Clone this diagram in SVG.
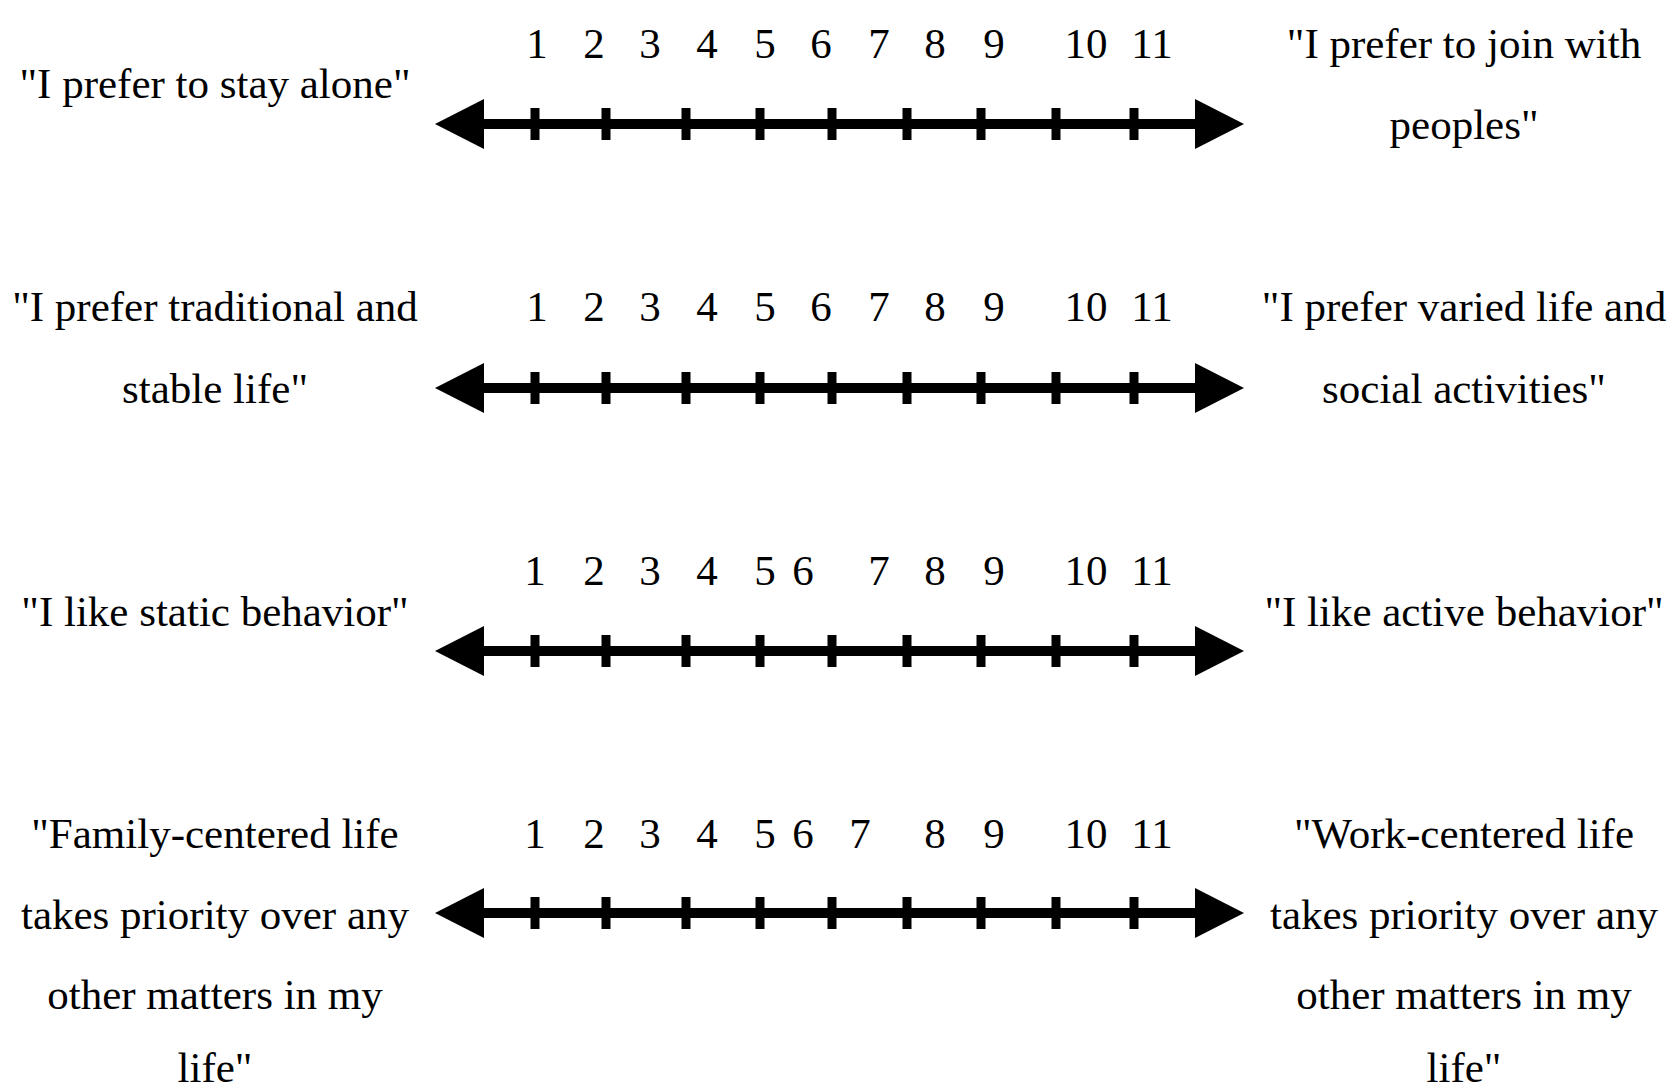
<svg xmlns="http://www.w3.org/2000/svg" xmlns:xlink="http://www.w3.org/1999/xlink" width="1668" height="1092" viewBox="0 0 1668 1092">
<style>
  text { font-family: "Liberation Serif", "Times New Roman", serif; font-size: 43px; fill: #000; }
  .lbl { text-anchor: middle; }
  .num { text-anchor: middle; }
  .axis { stroke: #000; stroke-width: 10; fill: none; }
  .tick { fill: #000; }
</style>
<defs>
  <marker id="arrow" markerUnits="userSpaceOnUse" markerWidth="50" markerHeight="52" viewBox="0 0 50 52" refX="1" refY="26" orient="auto-start-reverse">
    <path d="M0,1 L49,26 L0,51 z" fill="#000"/>
  </marker>
  <g id="ticks">
    <rect class="tick" x="530.5" y="-16" width="9" height="32"/>
    <rect class="tick" x="601.5" y="-16" width="9" height="32"/>
    <rect class="tick" x="681.5" y="-16" width="9" height="32"/>
    <rect class="tick" x="755.5" y="-16" width="9" height="32"/>
    <rect class="tick" x="827.5" y="-16" width="9" height="32"/>
    <rect class="tick" x="902.5" y="-16" width="9" height="32"/>
    <rect class="tick" x="976.5" y="-16" width="9" height="32"/>
    <rect class="tick" x="1051.5" y="-16" width="9" height="32"/>
    <rect class="tick" x="1129.5" y="-16" width="9" height="32"/>
  </g>
</defs>
<rect width="1668" height="1092" fill="#fff"/>

<g id="connectors">
  <g id="axis1" transform="translate(0,124)">
    <line class="axis" x1="483" y1="0" x2="1196" y2="0" marker-start="url(#arrow)" marker-end="url(#arrow)"/>
    <use xlink:href="#ticks"/>
  </g>
  <g id="axis2" transform="translate(0,388)">
    <line class="axis" x1="483" y1="0" x2="1196" y2="0" marker-start="url(#arrow)" marker-end="url(#arrow)"/>
    <use xlink:href="#ticks"/>
  </g>
  <g id="axis3" transform="translate(0,651)">
    <line class="axis" x1="483" y1="0" x2="1196" y2="0" marker-start="url(#arrow)" marker-end="url(#arrow)"/>
    <use xlink:href="#ticks"/>
  </g>
  <g id="axis4" transform="translate(0,913)">
    <line class="axis" x1="483" y1="0" x2="1196" y2="0" marker-start="url(#arrow)" marker-end="url(#arrow)"/>
    <use xlink:href="#ticks"/>
  </g>
</g>

<g id="scale1-numbers">
  <text class="num" x="537" y="58">1</text>
  <text class="num" x="594" y="58">2</text>
  <text class="num" x="650" y="58">3</text>
  <text class="num" x="707" y="58">4</text>
  <text class="num" x="765" y="58">5</text>
  <text class="num" x="821" y="58">6</text>
  <text class="num" x="879" y="58">7</text>
  <text class="num" x="935" y="58">8</text>
  <text class="num" x="994" y="58">9</text>
  <text class="num" x="1086" y="58">10</text>
  <text class="num" x="1152" y="58">11</text>
</g>
<g id="scale1-left"><text class="lbl" x="215" y="98">"I prefer to stay alone"</text></g>
<g id="scale1-right">
  <text class="lbl" x="1464" y="58">"I prefer to join with</text>
  <text class="lbl" x="1464" y="139">peoples"</text>
</g>

<g id="scale2-numbers">
  <text class="num" x="537" y="321">1</text>
  <text class="num" x="594" y="321">2</text>
  <text class="num" x="650" y="321">3</text>
  <text class="num" x="707" y="321">4</text>
  <text class="num" x="765" y="321">5</text>
  <text class="num" x="821" y="321">6</text>
  <text class="num" x="879" y="321">7</text>
  <text class="num" x="935" y="321">8</text>
  <text class="num" x="994" y="321">9</text>
  <text class="num" x="1086" y="321">10</text>
  <text class="num" x="1152" y="321">11</text>
</g>
<g id="scale2-left">
  <text class="lbl" x="215" y="321">"I prefer traditional and</text>
  <text class="lbl" x="215" y="403">stable life"</text>
</g>
<g id="scale2-right">
  <text class="lbl" x="1464" y="321">"I prefer varied life and</text>
  <text class="lbl" x="1464" y="403">social activities"</text>
</g>

<g id="scale3-numbers">
  <text class="num" x="535" y="585">1</text>
  <text class="num" x="594" y="585">2</text>
  <text class="num" x="650" y="585">3</text>
  <text class="num" x="707" y="585">4</text>
  <text class="num" x="765" y="585">5</text>
  <text class="num" x="803" y="585">6</text>
  <text class="num" x="879" y="585">7</text>
  <text class="num" x="935" y="585">8</text>
  <text class="num" x="994" y="585">9</text>
  <text class="num" x="1086" y="585">10</text>
  <text class="num" x="1152" y="585">11</text>
</g>
<g id="scale3-left"><text class="lbl" x="215" y="626">"I like static behavior"</text></g>
<g id="scale3-right"><text class="lbl" x="1464" y="626">"I like active behavior"</text></g>

<g id="scale4-numbers">
  <text class="num" x="535" y="848">1</text>
  <text class="num" x="594" y="848">2</text>
  <text class="num" x="650" y="848">3</text>
  <text class="num" x="707" y="848">4</text>
  <text class="num" x="765" y="848">5</text>
  <text class="num" x="803" y="848">6</text>
  <text class="num" x="860" y="848">7</text>
  <text class="num" x="935" y="848">8</text>
  <text class="num" x="994" y="848">9</text>
  <text class="num" x="1086" y="848">10</text>
  <text class="num" x="1152" y="848">11</text>
</g>
<g id="scale4-left">
  <text class="lbl" x="215" y="848">"Family-centered life</text>
  <text class="lbl" x="215" y="929">takes priority over any</text>
  <text class="lbl" x="215" y="1009">other matters in my</text>
  <text class="lbl" x="215" y="1082">life"</text>
</g>
<g id="scale4-right">
  <text class="lbl" x="1464" y="848">"Work-centered life</text>
  <text class="lbl" x="1464" y="929">takes priority over any</text>
  <text class="lbl" x="1464" y="1009">other matters in my</text>
  <text class="lbl" x="1464" y="1082">life"</text>
</g>
</svg>
